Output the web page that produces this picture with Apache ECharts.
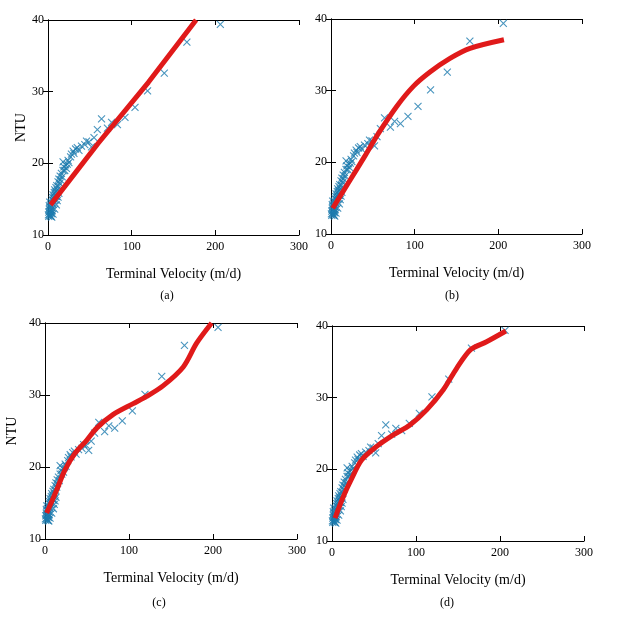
<!DOCTYPE html>
<html>
<head>
<meta charset="utf-8">
<script src="https://cdn.jsdelivr.net/npm/echarts@6/dist/echarts.min.js"></script>
<style>
  html, body { margin: 0; padding: 0; background: #fff; }
  #container { width: 621px; height: 618px; }
</style>
</head>
<body>
<div id="container"></div>
<script>
var dom = document.getElementById("container");
var myChart = echarts.init(dom);

// measured points (same in every panel)
var velocity = [0.5, 1, 1, 1.5, 2, 2, 2.5, 3, 3, 3.5, 4, 4, 4.5, 5, 5, 5.5, 6, 6, 6.5, 7,
  7.5, 8, 8, 8.5, 9, 9.5, 10, 10.5, 11, 12, 12.5, 13, 14, 14.5, 15, 16, 17, 18, 18, 19,
  20, 21, 22, 23, 24, 25, 27, 28, 30, 31, 33, 35, 37, 40, 44, 46, 49, 52, 55, 59,
  64, 71, 76, 83, 92, 104, 119, 139, 166, 206,
  4.5, 6, 8, 10, 11, 12, 13, 2, 3.5, 1.5];
var ntu = [12.8, 13.2, 12.6, 13.6, 12.9, 13.9, 13.3, 12.7, 14.2, 13.5, 13.0, 14.6, 13.8, 14.9, 13.4, 15.2, 14.3, 15.6, 14.8, 15.3,
  15.9, 14.9, 16.3, 15.6, 16.0, 16.6, 15.4, 16.9, 16.3, 17.4, 16.8, 17.8, 17.2, 18.2, 17.7, 18.6, 18.1, 19.0, 20.2, 19.5,
  19.0, 19.8, 19.3, 19.9, 20.4, 20.1, 20.9, 21.3, 21.7, 21.4, 22.0, 22.2, 21.8, 22.4, 22.6, 23.1, 23.0, 22.3, 23.6, 24.7,
  26.2, 24.9, 25.7, 25.4, 26.4, 27.8, 30.1, 32.6, 36.9, 39.4,
  12.5, 12.9, 13.6, 14.2, 14.8, 15.3, 15.8, 14.6, 12.6, 14.1];

// fitted curves
var fitA_v = [3, 60, 120, 177];
var fitA_n = [14.2, 22.8, 31.3, 40];
var fitB_v = [2, 22.7, 40.6, 56.5, 78.5, 98.4, 118.3, 142.2, 166.1, 206.7];
var fitB_n = [13.6, 17.5, 20.9, 24.0, 27.8, 30.6, 32.6, 34.5, 35.9, 37.1];
var fitC_v = [2, 13.9, 23.8, 35.7, 49.6, 61.5, 81.3, 105, 121, 140.8, 164.6, 180.5, 198.4];
var fitC_n = [13.6, 16.8, 19.6, 21.9, 23.7, 25.4, 27.3, 28.8, 29.8, 31.3, 33.9, 37.2, 40.0];
var fitD_v = [3.6, 13.5, 23.4, 35.3, 53.2, 73, 92.8, 112.7, 132.5, 148.4, 165, 184, 207];
var fitD_n = [13.2, 16.2, 18.7, 21.3, 23.2, 24.8, 26.2, 28.3, 31.1, 34.1, 36.7, 37.8, 39.3];

var xTicks = [0, 100, 200, 300];
var yTicks = [10, 20, 30, 40];
var panelLabels = ['(a)', '(b)', '(c)', '(d)'];
var xName = 'Terminal Velocity (m/d)';
var yName = 'NTU';

var fits = [[fitA_v, fitA_n], [fitB_v, fitB_n], [fitC_v, fitC_n], [fitD_v, fitD_n]];

function zip(a, b) {
    return a.map(function (v, i) { return [v, b[i]]; });
}

var FONT = '"Liberation Serif", "Times New Roman", serif';
var grids = [
    { left: 48, top: 20, width: 251, height: 215 },
    { left: 331, top: 19, width: 251, height: 215 },
    { left: 45, top: 323, width: 252, height: 216 },
    { left: 332, top: 326, width: 252, height: 215 }
];
var labelPos = [[167, 296], [452, 296], [159, 603], [447, 603]];
var nameGaps = [20, null, 26, null];

var xAxes = [], yAxes = [], series = [], graphics = [];

grids.forEach(function (g, i) {
    var line = { show: true, lineStyle: { color: '#000', width: 1 } };
    var tick = { show: true, inside: true, length: 5, lineStyle: { color: '#000' } };
    var base = {
        gridIndex: i, type: 'value', min: xTicks[0], max: xTicks[xTicks.length - 1],
        interval: xTicks[1] - xTicks[0], splitLine: { show: false }, axisLine: line, axisTick: tick
    };
    xAxes.push(Object.assign({}, base, {
        position: 'bottom',
        name: xName, nameLocation: 'middle', nameGap: 32,
        nameTextStyle: { fontFamily: FONT, fontSize: 14, color: '#000' },
        axisLabel: { fontFamily: FONT, fontSize: 12, color: '#000', margin: 6 }
    }));
    xAxes.push(Object.assign({}, base, { position: 'top', axisLabel: { show: false } }));

    var ybase = {
        gridIndex: i, type: 'value', min: yTicks[0], max: yTicks[yTicks.length - 1],
        interval: yTicks[1] - yTicks[0], splitLine: { show: false }, axisLine: line, axisTick: tick
    };
    var left = Object.assign({}, ybase, {
        position: 'left',
        axisLabel: { fontFamily: FONT, fontSize: 12, color: '#000', margin: 4 }
    });
    if (nameGaps[i] !== null) {
        left.name = yName;
        left.nameLocation = 'middle';
        left.nameGap = nameGaps[i];
        left.nameTextStyle = { fontFamily: FONT, fontSize: 14, color: '#000' };
    }
    yAxes.push(left);
    yAxes.push(Object.assign({}, ybase, { position: 'right', axisLabel: { show: false } }));

    series.push({
        type: 'scatter',
        xAxisIndex: 2 * i, yAxisIndex: 2 * i,
        data: zip(velocity, ntu),
        symbol: 'path://M0,0L10,10M10,0L0,10',
        symbolSize: 7,
        itemStyle: { color: 'rgba(0,0,0,0)', borderColor: '#1b7aae', borderWidth: 1.1 },
        silent: true, z: 2
    });
    series.push({
        type: 'line',
        xAxisIndex: 2 * i, yAxisIndex: 2 * i,
        data: zip(fits[i][0], fits[i][1]),
        showSymbol: false,
        smooth: i === 0 ? false : 0.3,
        lineStyle: { color: '#e01a1a', width: 5 },
        silent: true, z: 3
    });

    graphics.push({
        type: 'text',
        x: labelPos[i][0], y: labelPos[i][1],
        style: {
            text: panelLabels[i], fontFamily: FONT, fontSize: 12, fill: '#000',
            align: 'center', verticalAlign: 'middle'
        }
    });
});

var option = {
    animation: false,
    backgroundColor: '#fff',
    grid: grids,
    xAxis: xAxes,
    yAxis: yAxes,
    series: series,
    graphic: graphics
};

myChart.setOption(option);
</script>
</body>
</html>
